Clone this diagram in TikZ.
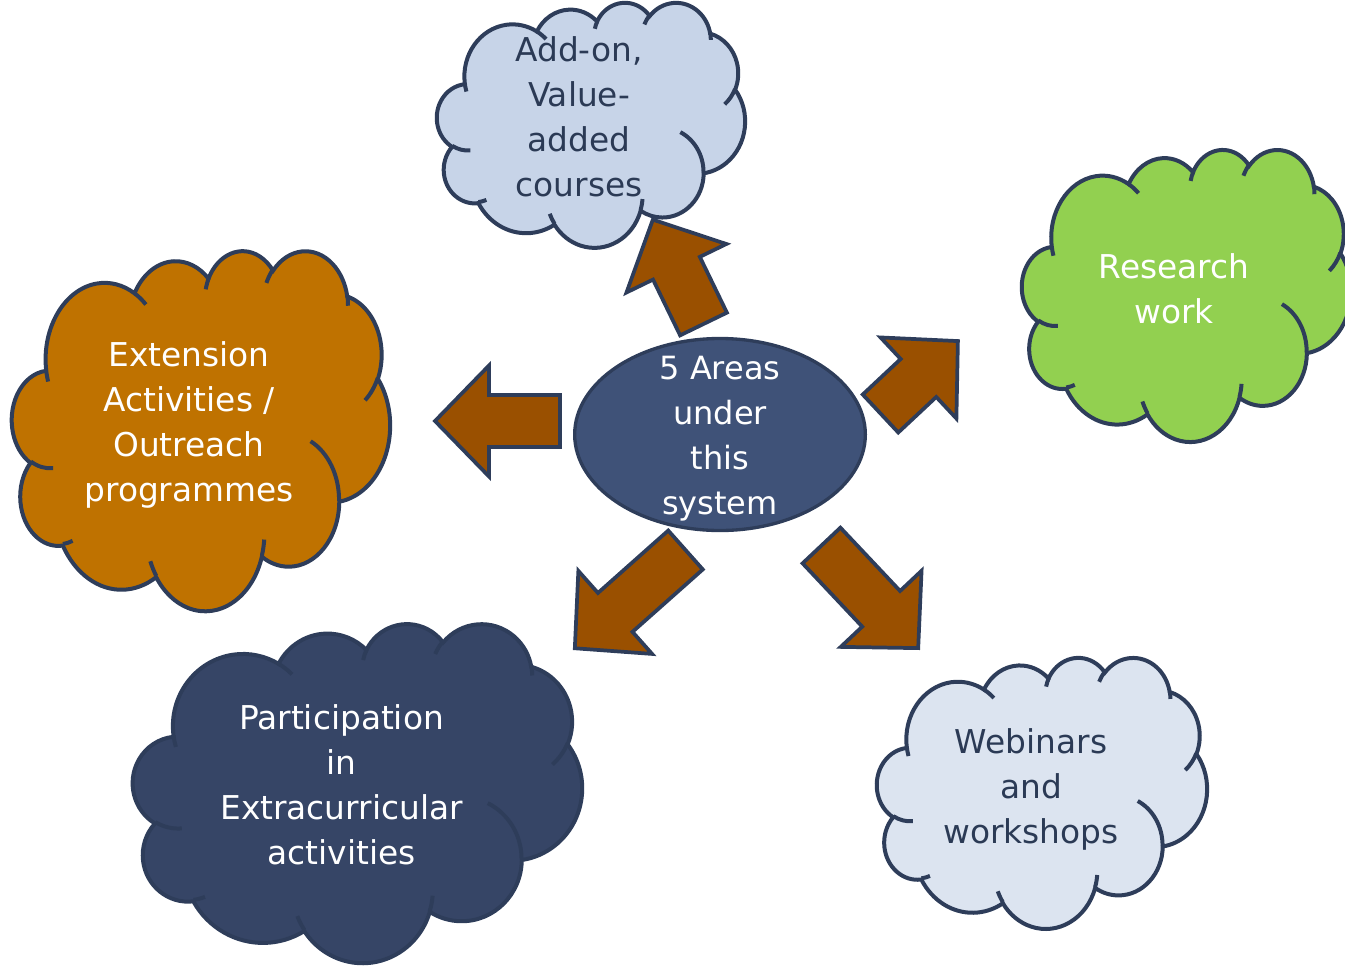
\documentclass[tikz,border=0pt]{standalone}
\usepackage{fontspec}
\setmainfont{DejaVu Sans}
\usetikzlibrary{shapes.geometric}
\definecolor{navyline}{HTML}{2E3D5A}
\definecolor{addonfill}{HTML}{C7D4E8}
\definecolor{researchfill}{HTML}{92D050}
\definecolor{extfill}{HTML}{BF7200}
\definecolor{partfill}{HTML}{364566}
\definecolor{webfill}{HTML}{DCE4F0}
\definecolor{ellfill}{HTML}{3F5278}
\definecolor{arrowfill}{HTML}{9A5000}
\definecolor{darktext}{HTML}{2B3A55}
% DrawingML-style arc: wR, hR, visual start angle, sweep (degrees)
\newcommand\carc[4]{arc[start angle={atan2(#1*sin(#3),#2*cos(#3))}, end angle={atan2(#1*sin(#3),#2*cos(#3))+mod(atan2(#1*sin(#3+#4),#2*cos(#3+#4))-atan2(#1*sin(#3),#2*cos(#3))+720,360)}, x radius=#1, y radius=#2]}
\newcommand\cloudouter{(39.00,143.70)
 \carc{67.53}{91.90}{-190.4875}{123.7805}
 \carc{53.33}{72.67}{-144.1024}{89.9452}
 \carc{43.65}{59.45}{-145.8079}{99.7230}
 \carc{48.57}{65.95}{-130.9861}{117.2417}
 \carc{53.33}{72.73}{-78.7089}{109.0269}
 \carc{67.75}{92.20}{-46.2673}{130.2690}
 \carc{57.85}{78.67}{0.6250}{114.0333}
 \carc{67.52}{92.15}{22.4516}{115.1726}
 \carc{77.20}{105.43}{66.2426}{75.7110}
 \carc{43.60}{59.18}{-274.9421}{146.7356}
 \carc{43.45}{59.45}{-246.8285}{152.5189} -- cycle}
\newcommand\cloudinner{
 (46.93,261.77) \carc{43.45}{59.45}{86.7420}{26.4295}
 (69.28,348.99) \carc{43.60}{59.18}{73.6105}{11.4475}
 (164.78,390.90) \carc{67.52}{92.15}{137.6242}{14.0811}
 (288.27,347.51) \carc{67.52}{92.15}{6.4533}{15.9984}
 (341.29,229.54) \carc{57.85}{78.67}{-70.2924}{70.9174}
 (417.98,153.54) \carc{53.33}{72.73}{30.3180}{27.7515}
 (383.24,54.26) \carc{48.57}{65.95}{-13.7443}{14.8589}
 (290.78,39.52) \carc{48.57}{65.95}{-149.1815}{18.1954}
 (221.41,47.20) \carc{43.65}{59.45}{-163.4943}{17.6864}
 (140.00,51.92) \carc{67.53}{91.90}{-66.7070}{12.3194}
 (41.27,157.89) \carc{67.53}{91.90}{157.6544}{11.8582}}
% x0, y0, xscale (w/432), yscale (h/432), fill
\newcommand\drawcloud[5]{%
 \begin{scope}[shift={(#1,#2)}, xscale=#3, yscale=#4]
  \filldraw[cloudline, fill=#5] \cloudouter;
  \draw[cloudline] \cloudinner;
 \end{scope}}
% tail-mid x, y, screen angle (clockwise, y down), length
\newcommand\blockarrow[4]{%
 \begin{scope}[shift={(#1,#2)}, rotate=-#3]
  \draw[blockarrowstyle] (0,-26) -- (#4-54,-26) -- (#4-54,-55.5) -- (#4,0)
    -- (#4-54,55.5) -- (#4-54,26) -- (0,26) -- cycle;
 \end{scope}}
\tikzset{
 cloudline/.style={draw=navyline, line width=3pt, line cap=butt},
 blockarrowstyle/.style={draw=navyline, fill=arrowfill, line width=2.8pt, line join=miter},
 lbl/.style={align=center, inner sep=0pt, font=\fontsize{24.6}{33.75}\selectfont,
   execute at begin node=\strut, execute at end node=\strut},
}
\begin{document}
\begin{tikzpicture}[x=0.75pt, y=-0.75pt]
\useasboundingbox (0,0) rectangle (1345,967);
% block arrows
\blockarrow{703.5}{324}{-115.9}{116}
\blockarrow{560}{421}{180}{125}
\blockarrow{880.5}{413.5}{-43.1}{106}
\blockarrow{685.5}{550}{138.4}{148}
\blockarrow{821.5}{545.5}{46.7}{141}
% centre ellipse
\node[ellipse, draw=navyline, fill=ellfill, line width=2.5pt, inner sep=0pt,
  minimum width=218pt, minimum height=144pt] (hub) at (720,434.5) {};
\node[lbl, text=white, font=\fontsize{24}{33.75}\selectfont] (hubtext) at (720,442)
  {5 Areas\\under\\this\\system};
% clouds
\drawcloud{437}{2}{0.7130}{0.5671}{addonfill}
\node[lbl, text=darktext] (addon) at (579,123.2) {Add-on,\\Value-\\added\\courses};
\drawcloud{1022}{149}{0.7616}{0.6759}{researchfill}
\node[lbl, text=white] (research) at (1174,295) {Research\\work};
\drawcloud{12}{250}{0.875}{0.8333}{extfill}
\node[lbl, text=white] (extension) at (189,428.2) {Extension\\Activities /\\Outreach\\programmes};
\drawcloud{133}{623}{1.0394}{0.7847}{partfill}
\node[lbl, text=white] (participation) at (341.5,791.5) {Participation\\in\\Extracurricular\\activities};
\drawcloud{877}{657}{0.7639}{0.6273}{webfill}
\node[lbl, text=darktext] (webinars) at (1031,793.2) {Webinars\\and\\workshops};
\end{tikzpicture}
\end{document}
